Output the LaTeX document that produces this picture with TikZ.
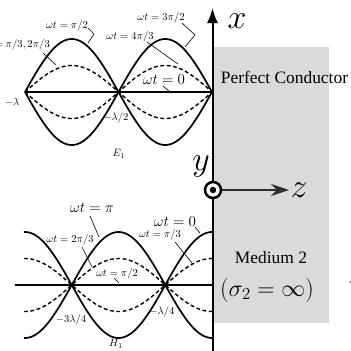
\RequirePackage{fix-cm}
\documentclass[tikz,border=0pt]{standalone}
\usepackage{fontspec}
\newfontfamily\timesfont{Liberation Serif}
\usetikzlibrary{arrows.meta}
\definecolor{cond}{RGB}{218,218,216}
\definecolor{zarrow}{RGB}{45,45,45}
\tikzset{
  curve/.style={line width=1.7pt},
  dcurve/.style={line width=1.4pt, dash pattern=on 3.8pt off 2.6pt},
  baseaxis/.style={line width=1.5pt},
  leader/.style={line width=0.6pt},
  small/.style={font=\fontsize{10.6}{12}\selectfont, inner sep=0pt},
  big/.style={font=\fontsize{15}{18}\selectfont, inner sep=0pt},
  axislabel/.style={font=\fontsize{34}{40}\selectfont, inner sep=0pt},
  ptext/.style={font=\timesfont\fontsize{17.4}{20}\selectfont, inner sep=0pt},
  mtext/.style={font=\fontsize{24}{28}\selectfont, inner sep=0pt},
}
\begin{document}
\begin{tikzpicture}[x=1pt,y=-1pt]
\useasboundingbox (0,0) rectangle (351,351);
% conductor region
\fill[cond] (213,47) rectangle (329,323);
\node[ptext] (pc) at (284.5,77) {Perfect Conductor};
\node[ptext] (med) at (271,258) {Medium 2};
\node[mtext] (sig) at (267,290) {$(\sigma_2=\infty)$};
\fill[black!70] (350,282) circle (0.9);

% ---------- upper plot (E1) ----------
\coordinate (Ea) at (25,92);
\coordinate (Eb) at (212,92);
\draw[baseaxis] (Ea) -- (Eb);
\draw[curve] plot[variable=\t, domain=-187:0, samples=120] ({212+\t},{92-53*sin(360*\t/187)});
\draw[curve] plot[variable=\t, domain=-187:0, samples=120] ({212+\t},{92+53*sin(360*\t/187)});
\draw[dcurve] plot[variable=\t, domain=-187:0, samples=120] ({212+\t},{92-26.5*sin(360*\t/187)});
\draw[dcurve] plot[variable=\t, domain=-187:0, samples=120] ({212+\t},{92+26.5*sin(360*\t/187)});

\node[small] (e1) at (67,26) {$\omega t=\pi/2$};
\coordinate (e1a) at (88,28); \coordinate (e1b) at (94,34); \coordinate (e1c) at (88,43);
\draw[leader] (e1a) -- (e1b) -- (e1c);
\node[small, anchor=east] (e2) at (50,45) {$\omega t=\pi/3,2\pi/3$};
\coordinate (e2a) at (43,53); \coordinate (e2b) at (56,65);
\draw[leader] (e2a) -- (e2b);
\node[small] (e3) at (161,18) {$\omega t=3\pi/2$};
\coordinate (e3a) at (182,23); \coordinate (e3b) at (195,35); \coordinate (e3c) at (185,47);
\draw[leader] (e3a) -- (e3b) -- (e3c);
\node[small] (e4) at (130,37) {$\omega t=4\pi/3$};
\coordinate (e4a) at (147,42); \coordinate (e4b) at (178,64);
\draw[leader] (e4a) -- (e4b);
\node[big] (e5) at (164,80) {$\omega t=0$};
\coordinate (e5a) at (163,86); \coordinate (e5b) at (170,92);
\draw[leader] (e5a) -- (e5b);
\node[small] (lam) at (12,102) {$-\lambda$};
\node[small] (lam2) at (116,118) {$-\lambda/2$};
\node[small] (E1) at (119,154) {$E_1$};

% ---------- lower plot (H1) ----------
\coordinate (Ha) at (15,285);
\coordinate (Hb) at (212,285);
\draw[baseaxis] (Ha) -- (Hb);
\draw[curve] plot[variable=\t, domain=-188:0, samples=120] ({212+\t},{285-53*cos(360*\t/187)});
\draw[curve] plot[variable=\t, domain=-188:0, samples=120] ({212+\t},{285+53*cos(360*\t/187)});
\draw[dcurve] plot[variable=\t, domain=-188:0, samples=120] ({212+\t},{285-26.5*cos(360*\t/187)});
\draw[dcurve] plot[variable=\t, domain=-188:0, samples=120] ({212+\t},{285+26.5*cos(360*\t/187)});

\node[big] (h1) at (92,208) {$\omega t=\pi$};
\coordinate (h1a) at (90,216); \coordinate (h1b) at (99,237);
\draw[leader] (h1a) -- (h1b);
\node[small] (h2) at (70,240) {$\omega t=2\pi/3$};
\coordinate (h2a) at (82,247); \coordinate (h2b) at (92,267);
\draw[leader] (h2a) -- (h2b);
\node[big] (h3) at (175,222) {$\omega t=0$};
\coordinate (h3a) at (195,227); \coordinate (h3b) at (200,233);
\draw[leader] (h3a) -- (h3b);
\node[small] (h4) at (160,235) {$\omega t=\pi/3$};
\coordinate (h4a) at (175,242); \coordinate (h4b) at (192,263);
\draw[leader] (h4a) -- (h4b);
\node[small] (h5) at (117,274) {$\omega t=\pi/2$};
\coordinate (h5a) at (114,278); \coordinate (h5b) at (119,283);
\draw[leader] (h5a) -- (h5b);
\node[small] (l34) at (71,320) {$-3\lambda/4$};
\node[small] (l4) at (162,312) {$-\lambda/4$};
\node[small] (H1) at (116,344) {$H_1$};

% ---------- axes ----------
\coordinate (ybot) at (212.5,351);
\coordinate (ytop) at (212.5,8);
\draw[line width=2pt, -{Latex[length=15pt,width=11pt]}] (ybot) -- (ytop);
\node[axislabel] (xl) at (237,21) {$x$};
\node[axislabel] (yl) at (201,166) {$y$};
\node[draw, circle, line width=2.5pt, fill=white, minimum size=16pt, inner sep=0pt] (yc) at (213,190) {};
\fill (yc.center) circle (3.2);
\coordinate (zt) at (289,190);
\draw[zarrow, line width=1.6pt, -{Stealth[length=18pt,width=12pt]}] (yc) -- (zt);
\node[axislabel] (zl) at (299,190) {$z$};
\end{tikzpicture}
\end{document}
